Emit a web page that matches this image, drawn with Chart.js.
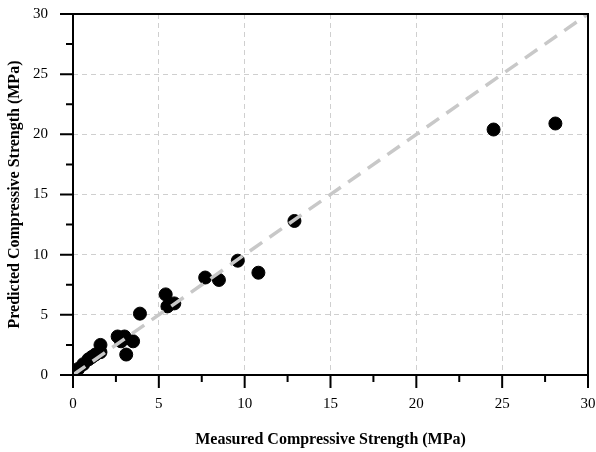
<!DOCTYPE html>
<html>
<head>
<meta charset="utf-8">
<script src="https://cdn.jsdelivr.net/npm/chart.js@4"></script>
<style>
  html, body { margin: 0; padding: 0; background: #fff; }
  #wrap { width: 596px; height: 452px; }
</style>
</head>
<body>
<div id="wrap"><canvas id="strengthChart"></canvas></div>
<script>
// measured vs predicted compressive strength (MPa)
const measured  = [0.3, 0.6, 0.9, 1.1, 1.3, 1.6, 1.6, 2.6, 2.8, 3.0, 3.1, 3.5, 3.9, 5.4, 5.5, 5.9, 7.7, 8.5, 9.6, 10.8, 12.9, 24.5, 28.1];
const predicted = [0.5, 0.9, 1.3, 1.5, 1.7, 2.5, 1.9, 3.2, 2.8, 3.2, 1.7, 2.8, 5.1, 6.7, 5.7, 5.95, 8.1, 7.9, 9.5, 8.5, 12.8, 20.4, 20.9];
const lineOfEquality = [0, 30];
const majorTicks = [0, 5, 10, 15, 20, 25, 30];
const minorTicks = [2.5, 7.5, 12.5, 17.5, 22.5, 27.5];

const serif = 'Liberation Serif';

// frame around the plot plus outward major/minor ticks
const framePlugin = {
    id: 'frame',
    afterDraw(chart) {
        const ctx = chart.ctx;
        const a = chart.chartArea;
        const xs = chart.scales.x, ys = chart.scales.y;
        ctx.save();
        ctx.strokeStyle = '#000';
        ctx.lineWidth = 2;
        ctx.strokeRect(a.left, a.top, a.right - a.left, a.bottom - a.top);
        ctx.beginPath();
        majorTicks.forEach(v => {
            const px = xs.getPixelForValue(v);
            ctx.moveTo(px, a.bottom); ctx.lineTo(px, a.bottom + 13);
            const py = ys.getPixelForValue(v);
            ctx.moveTo(a.left, py); ctx.lineTo(a.left - 13, py);
        });
        minorTicks.forEach(v => {
            const px = xs.getPixelForValue(v);
            ctx.moveTo(px, a.bottom); ctx.lineTo(px, a.bottom + 7);
            const py = ys.getPixelForValue(v);
            ctx.moveTo(a.left, py); ctx.lineTo(a.left - 7, py);
        });
        ctx.stroke();
        ctx.restore();
    }
};

// keep chart.js from reserving extra room for the end labels
function noEdgePadding(scale) {
    scale.paddingTop = 0;
    scale.paddingBottom = 0;
    scale.paddingLeft = 0;
    scale.paddingRight = 0;
}

document.addEventListener("DOMContentLoaded", function() {
    const ctx = document.getElementById('strengthChart').getContext('2d');
    new Chart(ctx, {
        type: 'scatter',
        data: {
            datasets: [{
                type: 'line',
                data: lineOfEquality.map(v => ({x: v, y: v})),
                borderColor: '#c8c8c8',
                borderWidth: 3.5,
                borderDash: [15, 9],
                pointRadius: 0,
                fill: false,
                order: 0
            }, {
                data: measured.map((m, i) => ({x: m, y: predicted[i]})),
                backgroundColor: '#000',
                borderColor: '#000',
                pointRadius: 6.5,
                order: 1
            }]
        },
        options: {
            responsive: true,
            maintainAspectRatio: false,
            animation: false,
            layout: { padding: { top: 14, right: 8, left: 0, bottom: 0 } },
            plugins: {
                legend: { display: false },
                tooltip: { enabled: false }
            },
            scales: {
                x: {
                    type: 'linear', min: 0, max: 30,
                    afterFit(scale) { scale.height = 77; noEdgePadding(scale); },
                    border: { display: false, dash: [5, 4] },
                    grid: { color: '#cfcfcf', lineWidth: 1, drawTicks: false },
                    ticks: {
                        stepSize: 5, padding: 20, color: '#000',
                        font: { family: serif, size: 15 }
                    },
                    title: {
                        display: true,
                        text: 'Measured Compressive Strength (MPa)',
                        color: '#000',
                        font: { family: serif, size: 16, weight: 'bold' },
                        padding: { top: 0, bottom: 3 }
                    }
                },
                y: {
                    type: 'linear', min: 0, max: 30,
                    afterFit(scale) { scale.width = 73; noEdgePadding(scale); },
                    border: { display: false, dash: [5, 4] },
                    grid: { color: '#cfcfcf', lineWidth: 1, drawTicks: false },
                    ticks: {
                        stepSize: 5, padding: 25, color: '#000',
                        font: { family: serif, size: 15 }
                    },
                    title: {
                        display: true,
                        text: 'Predicted Compressive Strength (MPa)',
                        color: '#000',
                        font: { family: serif, size: 16, weight: 'bold' },
                        padding: { top: 5, bottom: 0 }
                    }
                }
            }
        },
        plugins: [framePlugin]
    });
});
</script>
</body>
</html>
